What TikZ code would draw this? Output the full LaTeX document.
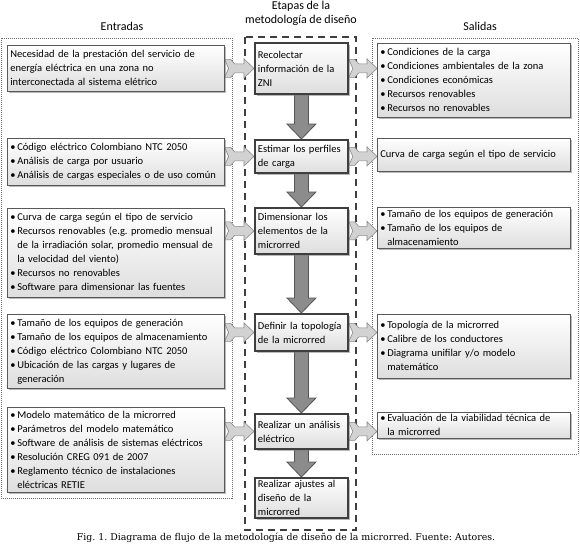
\documentclass[tikz,border=0pt]{standalone}
\usepackage{fontspec}
\setmainfont{Carlito}
\newfontfamily\capfont{DejaVu Serif}
\usetikzlibrary{shadows,calc}
\frenchspacing
\pgfdeclarelayer{back}\pgfdeclarelayer{mid}
\pgfsetlayers{back,mid,main}
\definecolor{mboxc}{HTML}{3F3F3F}
\definecolor{varrfill}{HTML}{8C8C8C}
\definecolor{varrdraw}{HTML}{555555}
\definecolor{harrfill}{HTML}{D2D2D2}
\definecolor{harrdraw}{HTML}{8A8A8A}
\definecolor{dotc}{HTML}{6E6E6E}
\newcommand\bl[1]{\mbox{\makebox[7pt][l]{\textbullet}#1}}
\newcommand\ind[1]{\mbox{\hspace*{7pt}#1}}
\newcommand\lnx[1]{\mbox{#1}}
\newcommand\harr[2]{\path[harrst] let \p1=(#1), \p2=(#2) in
 (\x1,\y1+9pt) -- (\x1+6pt,\y1+9pt) -- (\x1+10pt,\y1+4.5pt) -- (\x2-10pt,\y1+4.5pt) -- (\x2-10pt,\y1+9.5pt) -- (\x2,\y1) -- (\x2-10pt,\y1-9.5pt) -- (\x2-10pt,\y1-4.5pt) -- (\x1+10pt,\y1-4.5pt) -- (\x1+6pt,\y1-9pt) -- (\x1,\y1-9pt) -- (\x1+4pt,\y1) -- cycle;}
\newcommand\varr[2]{\path[varrst] let \p1=(#1.south), \p2=(#2.north) in
 (\x1-7pt,\y1) -- (\x1-7pt,\y2+15pt) -- (\x1-14.5pt,\y2+15pt) -- (\x1,\y2) -- (\x1+14.5pt,\y2+15pt) -- (\x1+7pt,\y2+15pt) -- (\x1+7pt,\y1) -- cycle;}
\begin{document}
\begin{tikzpicture}[x=1pt,y=-1pt,
  side/.style={draw=black!65, line width=0.6pt, top color=white, bottom color=black!13,
    drop shadow={shadow xshift=1.6pt, shadow yshift=-1.6pt, fill=black!50, opacity=0.55},
    align=left, inner xsep=3pt, inner ysep=1pt, font=\fontsize{10.5}{14}\selectfont, anchor=north west},
  stage/.style={side, draw=mboxc, line width=1.8pt},
  ttl/.style={font=\fontsize{12}{14}\selectfont, align=center},
  harrst/.style={fill=harrfill, draw=harrdraw, line width=0.6pt, line join=miter},
  varrst/.style={fill=varrfill, draw=varrdraw, line width=0.8pt, line join=miter},
  dotbox/.style={draw=dotc, line width=0.5pt, dash pattern=on 1pt off 1pt},
  dashbox/.style={draw=mboxc, line width=2.2pt, dash pattern=on 7pt off 5pt}]
\useasboundingbox (0,0) rectangle (580,546);

% titles
\node[ttl] (tin) at (122,26) {Entradas};
\node[ttl] (tst) at (301,13) {Etapas de la\\metodología de diseño};
\node[ttl] (tout) at (480,26) {Salidas};

% left boxes
\node[side, text width=211pt, minimum height=46pt] (L1) at (7,45)
 {\lnx{Necesidad de la prestación del servicio de}\\\lnx{energía eléctrica en una zona no}\\\lnx{interconectada al sistema elétrico}};
\node[side, text width=211pt, minimum height=47pt] (L2) at (7,138)
 {\bl{Código eléctrico Colombiano NTC 2050}\\\bl{Análisis de carga por usuario}\\\bl{Análisis de cargas especiales o de uso común}};
\node[side, text width=211pt, minimum height=89pt] (L3) at (7,208)
 {\bl{Curva de carga según el tipo de servicio}\\\bl{Recursos renovables (e.g. promedio mensual}\\\ind{de la irradiación solar, promedio mensual de}\\\ind{la velocidad del viento)}\\\bl{Recursos no renovables}\\\bl{Software para dimensionar las fuentes}};
\node[side, text width=211pt, minimum height=74pt] (L4) at (7,314)
 {\bl{Tamaño de los equipos de generación}\\\bl{Tamaño de los equipos de almacenamiento}\\\bl{Código eléctrico Colombiano NTC 2050}\\\bl{Ubicación de las cargas y lugares de}\\\ind{generación}};
\node[side, text width=211pt, minimum height=85pt] (L5) at (7,407)
 {\bl{Modelo matemático de la microrred}\\\bl{Parámetros del modelo matemático}\\\bl{Software de análisis de sistemas eléctricos}\\\bl{Resolución CREG 091 de 2007}\\\bl{Reglamento técnico de instalaciones}\\\ind{eléctricas RETIE}};

% stages
\node[stage, text width=87pt, minimum height=51pt] (M1) at (254,42) {\lnx{Recolectar}\\\lnx{información de la}\\\lnx{ZNI}};
\node[stage, text width=87pt, minimum height=33pt] (M2) at (254,139) {\lnx{Estimar los perfiles}\\\lnx{de carga}};
\node[stage, text width=87pt, minimum height=46pt] (M3) at (254,207) {\lnx{Dimensionar los}\\\lnx{elementos de la}\\\lnx{microrred}};
\node[stage, text width=87pt, minimum height=37pt] (M4) at (254,313) {\lnx{Definir la topología}\\\lnx{de la microrred}};
\node[stage, text width=87pt, minimum height=35pt] (M5) at (254,413) {\lnx{Realizar un análisis}\\\lnx{eléctrico}};
\node[stage, text width=87pt, minimum height=40pt] (M6) at (254,477) {\lnx{Realizar ajustes al}\\\lnx{diseño de la}\\\lnx{microrred}};

% right boxes
\node[side, text width=187pt, minimum height=74pt] (R1) at (377,43)
 {\bl{Condiciones de la carga}\\\bl{Condiciones ambientales de la zona}\\\bl{Condiciones económicas}\\\bl{Recursos renovables}\\\bl{Recursos no renovables}};
\node[side, text width=187pt, minimum height=33pt] (R2) at (377,138)
 {\lnx{Curva de carga según el tipo de servicio}};
\node[side, text width=187pt, minimum height=41pt] (R3) at (377,207)
 {\bl{Tamaño de los equipos de generación}\\\bl{Tamaño de los equipos de}\\\ind{almacenamiento}};
\node[side, text width=187pt, minimum height=64pt] (R4) at (377,314)
 {\bl{Topología de la microrred}\\\bl{Calibre de los conductores}\\\bl{Diagrama unifilar y/o modelo}\\\ind{matemático}};
\node[side, text width=187pt, minimum height=26pt] (R5) at (377,412)
 {\bl{Evaluación de la viabilidad técnica de}\\\ind{la microrred}};

% caption
\node[font=\capfont\fontsize{9.4}{11}\selectfont] (cap) at (286,538)
 {Fig. 1. Diagrama de flujo de la metodología de diseño de la microrred. Fuente: Autores.};

% containers
\begin{pgfonlayer}{back}
\fill[white] (0,0) rectangle (580,546);
\draw[dotbox] (1,38) rectangle (232,498);
\draw[dotbox] (372,38) rectangle (578,454);
\draw[dashbox] (245,37) rectangle (356,530);
\end{pgfonlayer}

% arrows
\begin{pgfonlayer}{mid}
\varr{M1}{M2}
\varr{M2}{M3}
\varr{M3}{M4}
\varr{M4}{M5}
\varr{M5}{M6}
\harr{L1.east |- M1.west}{M1.west}
\harr{L2.east |- M2.west}{M2.west}
\harr{L3.east |- M3.west}{M3.west}
\harr{L4.east |- M4.west}{M4.west}
\harr{L5.east |- M5.west}{M5.west}
\harr{M1.east}{R1.west |- M1.east}
\harr{M2.east}{R2.west |- M2.east}
\harr{M3.east}{R3.west |- M3.east}
\harr{M4.east}{R4.west |- M4.east}
\harr{M5.east}{R5.west |- M5.east}
\end{pgfonlayer}
\end{tikzpicture}
\end{document}
